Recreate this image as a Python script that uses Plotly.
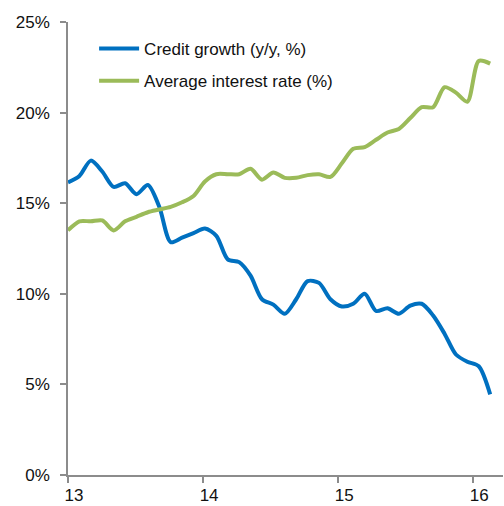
import plotly.graph_objects as go

# Monthly observations, Jan 2013 .. Feb 2016 (38 points)
n_points = 38
x_end = 16.125
x_vals = [13 + i * (x_end - 13) / (n_points - 1) for i in range(n_points)]

credit_growth = [16.15, 16.5, 17.35, 16.75, 15.9, 16.1, 15.5, 16.0, 14.8, 12.85,
                 13.1, 13.35, 13.6, 13.2, 11.9, 11.75, 11.0, 9.7, 9.4, 8.9,
                 9.7, 10.7, 10.6, 9.7, 9.3, 9.45, 10.0, 9.05, 9.2, 8.9,
                 9.35, 9.45, 8.8, 7.8, 6.65, 6.25, 6.0, 4.45]

interest_rate = [13.5, 14.0, 14.0, 14.05, 13.5, 14.0, 14.25, 14.5, 14.65, 14.8,
                 15.05, 15.4, 16.2, 16.6, 16.6, 16.6, 16.9, 16.3, 16.7, 16.4,
                 16.4, 16.55, 16.6, 16.45, 17.2, 18.0, 18.1, 18.5, 18.9, 19.1,
                 19.7, 20.3, 20.3, 21.4, 21.1, 20.6, 22.85, 22.7]

x_ticks = [13, 14, 15, 16]
x_tick_labels = ["13", "14", "15", "16"]
y_ticks = [0, 5, 10, 15, 20, 25]
y_tick_labels = ["0%", "5%", "10%", "15%", "20%", "25%"]

fig = go.Figure()
fig.add_trace(go.Scatter(x=x_vals, y=credit_growth, mode="lines",
                         name="Credit growth (y/y, %)", legendgroup="a",
                         line=dict(color="#0070C0", width=4, shape="spline", smoothing=0.8)))
fig.add_trace(go.Scatter(x=x_vals, y=interest_rate, mode="lines",
                         name="Average interest rate (%)", legendgroup="b",
                         line=dict(color="#9BBB59", width=4, shape="spline", smoothing=0.8)))

fig.update_layout(
    width=504, height=506,
    margin=dict(l=68, r=1, t=22, b=29),
    paper_bgcolor="white", plot_bgcolor="white",
    font=dict(family="Liberation Sans, Arial, sans-serif", size=17, color="#111111"),
    showlegend=True,
    legend=dict(x=0.06, y=0.98, xanchor="left", yanchor="top",
                bgcolor="rgba(0,0,0,0)", font=dict(size=17, color="#111111"),
                traceorder="grouped", tracegroupgap=7, itemwidth=40),
    xaxis=dict(range=[13, 16.22], tickmode="array", tickvals=x_ticks, ticktext=x_tick_labels,
               showgrid=False, zeroline=False, showline=True, linecolor="#8c8c8c", linewidth=1.5,
               ticks="outside", ticklen=6, tickcolor="#8c8c8c", tickwidth=1.5,
               ticklabelshift=6, ticklabelstandoff=-2,
               tickfont=dict(size=17)),
    yaxis=dict(range=[0, 25], tickmode="array", tickvals=y_ticks, ticktext=y_tick_labels,
               showgrid=False, zeroline=False, showline=True, linecolor="#8c8c8c", linewidth=1.5,
               ticks="outside", ticklen=6, tickcolor="#8c8c8c", tickwidth=1.5,
               ticklabelstandoff=7,
               tickfont=dict(size=17)),
)

fig.write_html("out.html")
